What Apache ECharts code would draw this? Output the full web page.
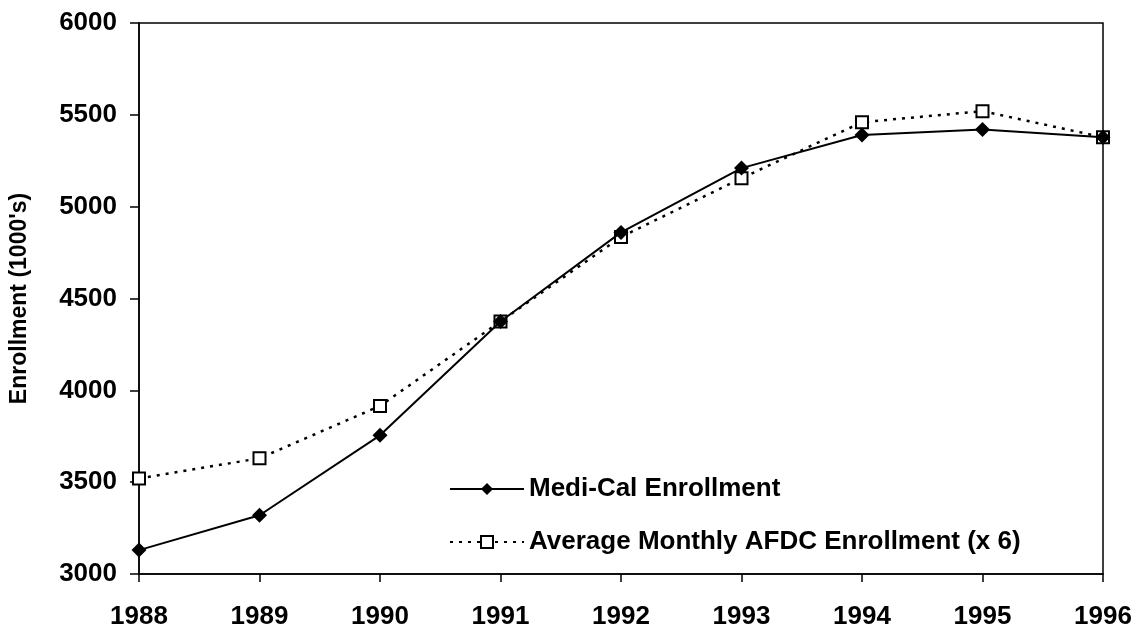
<!DOCTYPE html>
<html>
<head>
    <meta charset="UTF-8">
    <title>Medi-Cal Enrollment</title>
    <script src="https://cdn.jsdelivr.net/npm/echarts@6/dist/echarts.min.js"></script>
    <style>
        html, body { margin: 0; padding: 0; background: #fff; }
        #main { width: 1143px; height: 636px; }
    </style>
</head>
<body>
<div id="main"></div>
<script>
    // data
    var years = ['1988', '1989', '1990', '1991', '1992', '1993', '1994', '1995', '1996'];
    var mediCal = [3130, 3320, 3755, 4375, 4860, 5210, 5390, 5420, 5378];
    var afdc = [3520, 3630, 3915, 4375, 4835, 5155, 5460, 5520, 5378];
    var yTicks = [3000, 3500, 4000, 4500, 5000, 5500, 6000];

    var font = 'Liberation Sans, Arial, sans-serif';
    var chart = echarts.init(document.getElementById('main'));

    var option = {
        animation: false,
        backgroundColor: '#fff',
        grid: {
            left: 136, right: 40, top: 23, bottom: 62,
            show: true,
            borderColor: '#000',
            borderWidth: 1.5
        },
        legend: {
            orient: 'vertical',
            left: 444,
            top: 471,
            itemWidth: 74,
            itemHeight: 15,
            itemGap: 27,
            textStyle: { fontFamily: font, fontWeight: 'bold', fontSize: 26, color: '#000' },
            data: ['Medi-Cal Enrollment', 'Average Monthly AFDC Enrollment (x 6)']
        },
        xAxis: {
            type: 'category',
            data: years,
            boundaryGap: false,
            axisLine: { lineStyle: { color: '#000', width: 1.5 } },
            axisTick: { show: true, length: 8, lineStyle: { color: '#000', width: 1.5 } },
            axisLabel: { margin: 30, fontFamily: font, fontWeight: 'bold', fontSize: 26, color: '#000' },
            splitLine: { show: false }
        },
        yAxis: {
            type: 'value',
            min: yTicks[0],
            max: yTicks[yTicks.length - 1],
            interval: 500,
            name: "Enrollment (1000's)",
            nameLocation: 'middle',
            nameRotate: 90,
            nameGap: 108,
            nameTextStyle: { fontFamily: font, fontWeight: 'bold', fontSize: 23, color: '#000' },
            axisLine: { show: true, lineStyle: { color: '#000', width: 1.5 } },
            axisTick: { show: true, length: 9, lineStyle: { color: '#000', width: 1.5 } },
            axisLabel: {
                margin: 22, fontFamily: font, fontWeight: 'bold', fontSize: 26, color: '#000',
                formatter: function (v) { return String(v); }
            },
            splitLine: { show: false }
        },
        series: [
            {
                name: 'Medi-Cal Enrollment',
                type: 'line',
                data: mediCal,
                symbol: 'diamond',
                symbolSize: 15,
                itemStyle: { color: '#000' },
                lineStyle: { color: '#000', width: 2 },
                z: 3
            },
            {
                name: 'Average Monthly AFDC Enrollment (x 6)',
                type: 'line',
                data: afdc,
                symbol: 'rect',
                symbolSize: 12,
                itemStyle: { color: '#fff', borderColor: '#000', borderWidth: 2 },
                lineStyle: { color: '#000', width: 2.5, type: [3, 6] },
                z: 2
            }
        ]
    };
    chart.setOption(option);
</script>
</body>
</html>
